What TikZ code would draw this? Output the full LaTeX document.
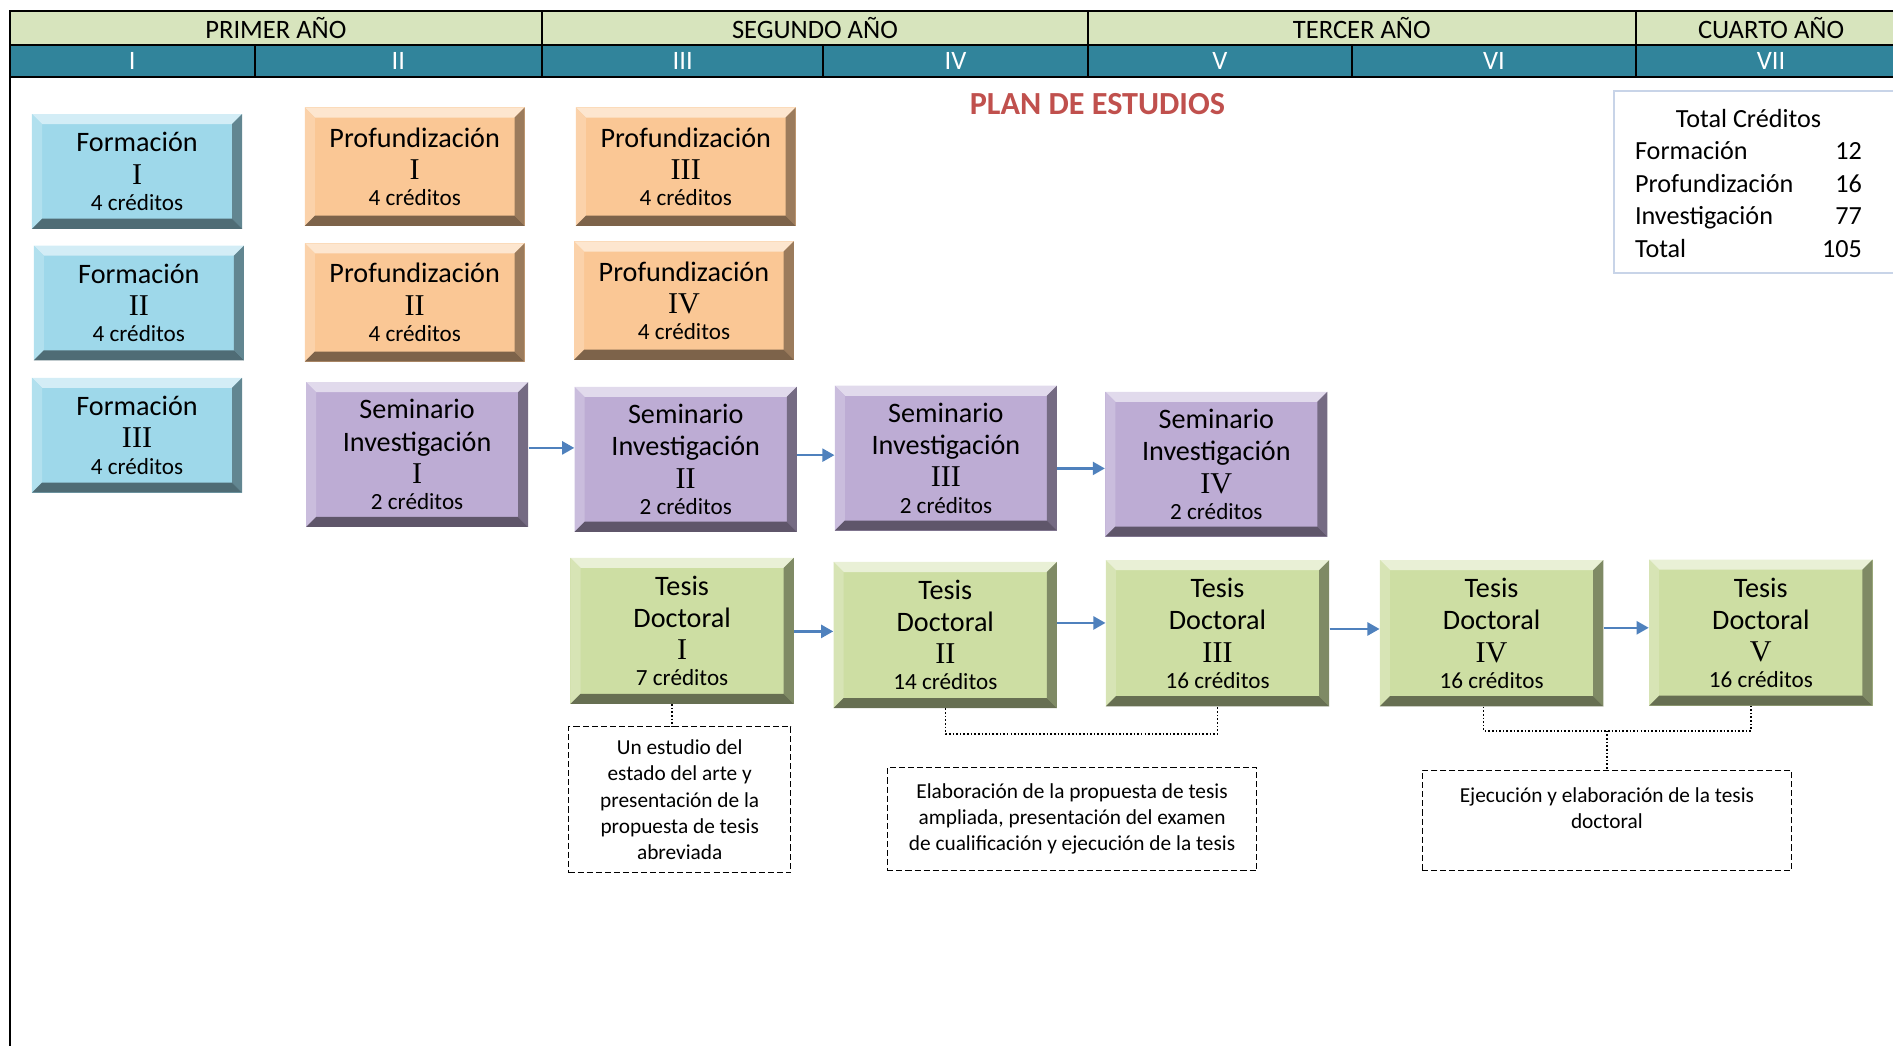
\documentclass[tikz,border=0pt]{standalone}
\usepackage{fontspec}
\setmainfont{Carlito}
\newfontfamily\romfont{Liberation Serif}
\usetikzlibrary{arrows.meta}

\definecolor{celeste}{RGB}{158,216,234}
\definecolor{naranja}{RGB}{250,199,149}
\definecolor{lila}{RGB}{189,172,212}
\definecolor{verde}{RGB}{205,222,163}
\definecolor{azul}{RGB}{79,129,189}
\definecolor{rojo}{RGB}{192,80,77}
\definecolor{cabecera}{RGB}{215,228,189}
\definecolor{banda}{RGB}{49,132,155}
\definecolor{marco}{RGB}{200,212,232}

\newcommand{\romano}[1]{{\romfont\fontsize{15}{15.6}\selectfont #1}}
\newcommand{\cred}[1]{{\fontsize{11.5}{13}\selectfont #1}}
\newcommand{\etiq}[3]{#1\\\romano{#2}\\[-3pt]\cred{#3}}

\tikzset{
  bevel/.style={fill=#1, path picture={
    \coordinate (nw) at (path picture bounding box.north west);
    \coordinate (ne) at (path picture bounding box.north east);
    \coordinate (sw) at (path picture bounding box.south west);
    \coordinate (se) at (path picture bounding box.south east);
    \coordinate (inw) at ([shift={(5pt,-5pt)}]nw);
    \coordinate (ine) at ([shift={(-5pt,-5pt)}]ne);
    \coordinate (isw) at ([shift={(5pt,5pt)}]sw);
    \coordinate (ise) at ([shift={(-5pt,5pt)}]se);
    \fill[#1!45!white] (nw) -- (ne) -- (ine) -- (inw) -- cycle;
    \fill[#1!80!white] (nw) -- (inw) -- (isw) -- (sw) -- cycle;
    \fill[#1!62!black] (ne) -- (se) -- (ise) -- (ine) -- cycle;
    \fill[#1!50!black] (sw) -- (isw) -- (ise) -- (se) -- cycle;
  }},
}

\begin{document}
\begin{tikzpicture}[x=0.6pt, y=-0.6pt,
  anio/.style={draw, line width=1pt, fill=cabecera, font=\fontsize{13.2}{15}\selectfont},
  semestre/.style={draw, line width=1pt, fill=banda, font=\fontsize{13.2}{15}\selectfont},
  caja/.style={inner sep=0pt, align=center, font=\fontsize{14}{16}\selectfont},
  form/.style={caja, bevel=celeste, minimum width=104.4pt, minimum height=57pt},
  prof/.style={caja, bevel=naranja, minimum width=109.2pt, minimum height=58.8pt},
  sem/.style={caja, bevel=lila, minimum width=110.4pt, minimum height=72pt, text depth=-4pt},
  tesis/.style={caja, bevel=verde, minimum width=111pt, minimum height=72.6pt, text depth=-4.5pt},
  nota/.style={draw, dash pattern=on 3pt off 1.5pt, line width=0.6pt, align=center,
    inner sep=0pt, font=\fontsize{10.6}{13.05}\selectfont},
  flecha/.style={-{Triangle[length=6pt,width=6.5pt]}, line width=1.1pt, azul},
  puntos/.style={densely dotted, line width=0.8pt}]
\useasboundingbox (0,0) rectangle (1568,866);
\clip (0,0) rectangle (1568,866);

\foreach \n/\xa/\xb/\t in {1/8/449/PRIMER AÑO, 2/449/901/SEGUNDO AÑO, 3/901/1355/TERCER AÑO, 4/1355/1579/CUARTO AÑO}
  \draw[anio] (\xa,9) rectangle (\xb,37) node[midway] (a\n) {\t};
\foreach \n/\xa/\xb/\t in {1/8/211/I, 2/211/449/II, 3/449/682/III, 4/682/901/IV, 5/901/1120/V, 6/1120/1355/VI, 7/1355/1579/VII}
  \draw[semestre] (\xa,37) rectangle (\xb,64) node[midway, text=white] (s\n) {\t};
\draw[line width=1pt] (8,9) -- (8,870);

\node[font=\bfseries\fontsize{16}{19}\selectfont, text=rojo] (titulo) at (909,86) {PLAN DE ESTUDIOS};

\draw[marco, line width=1pt] (1337,75) rectangle (1580,226);
\node[anchor=north west, inner sep=0pt, font=\fontsize{13}{16.2}\selectfont] (total) at (1354,86)
  {\begin{tabular}{@{}p{81pt}r@{}}
    \multicolumn{2}{c}{Total Créditos}\\
    Formación & 12\\
    Profundización & 16\\
    Investigación & 77\\
    Total & 105
  \end{tabular}};

\node[form] (F1) at (113.5,142) {\etiq{Formación}{I}{4 créditos}};
\node[form] (F2) at (115,251) {\etiq{Formación}{II}{4 créditos}};
\node[form] (F3) at (113.5,360.5) {\etiq{Formación}{III}{4 créditos}};

\node[prof] (P1) at (343.5,138) {\etiq{Profundización}{I}{4 créditos}};
\node[prof] (P2) at (343.5,250.5) {\etiq{Profundización}{II}{4 créditos}};
\node[prof] (P3) at (568,138) {\etiq{Profundización}{III}{4 créditos}};
\node[prof] (P4) at (566.5,249) {\etiq{Profundización}{IV}{4 créditos}};

\node[sem] (S1) at (345.5,376.5) {\etiq{Seminario\\Investigación}{I}{2 créditos}};
\node[sem] (S2) at (568,380.5) {\etiq{Seminario\\Investigación}{II}{2 créditos}};
\node[sem] (S3) at (783.5,379.5) {\etiq{Seminario\\Investigación}{III}{2 créditos}};
\node[sem] (S4) at (1007.5,384.5) {\etiq{Seminario\\Investigación}{IV}{2 créditos}};

\node[tesis] (T1) at (565,522.5) {\etiq{Tesis\\Doctoral}{I}{7 créditos}};
\node[tesis] (T2) at (783,526) {\etiq{Tesis\\Doctoral}{II}{14 créditos}};
\node[tesis] (T3) at (1008.5,524.5) {\etiq{Tesis\\Doctoral}{III}{16 créditos}};
\node[tesis] (T4) at (1235.5,524.5) {\etiq{Tesis\\Doctoral}{IV}{16 créditos}};
\node[tesis] (T5) at (1458.5,524) {\etiq{Tesis\\Doctoral}{V}{16 créditos}};

\foreach \a/\b/\y in {S1/S2/371, S2/S3/377, S3/S4/388, T1/T2/523, T2/T3/516, T3/T4/521, T4/T5/520}
  \draw[flecha] (\a.east |- 0,\y) -- (\b.west |- 0,\y);

\node[nota, minimum width=110.4pt, minimum height=72.6pt] (N1) at (563,662.5)
  {Un estudio del\\estado del arte y\\presentación de la\\propuesta de tesis\\abreviada};
\node[nota, minimum width=183.6pt, minimum height=51pt] (N2) at (888,678.5)
  {Elaboración de la propuesta de tesis\\ampliada, presentación del examen\\de cualificación y ejecución de la tesis};
\node[nota, minimum width=183.6pt, minimum height=49.8pt, text depth=12pt] (N3) at (1331,679.5)
  {Ejecución y elaboración de la tesis\\doctoral};

\draw[puntos] ([xshift=-5pt]T1.south) -- ([xshift=-5pt]T1.south |- N1.north);
\draw[puntos] (T2.south) -- ++(0,21) -| (T3.south);
\draw[puntos] ([xshift=-4pt]T4.south) -- ++(0,20) coordinate (c45) -| ([xshift=-5pt]T5.south);
\draw[puntos] (N3.north |- c45) -- (N3.north);

\end{tikzpicture}
\end{document}
